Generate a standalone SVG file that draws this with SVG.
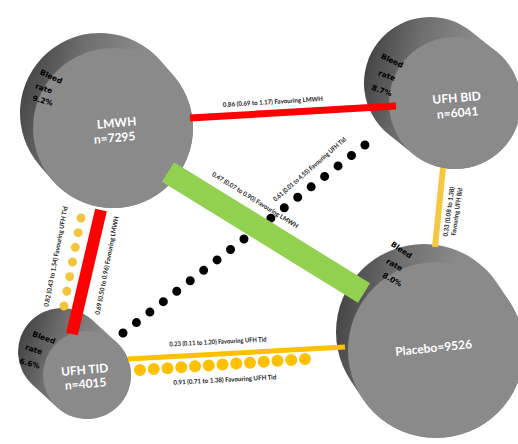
<svg xmlns="http://www.w3.org/2000/svg" width="518" height="444" viewBox="0 0 518 444">
<style>
.face{fill:#8a8a8a}
.nl{font-family:Lato,"Liberation Sans",sans-serif;font-size:12px;font-weight:bold;fill:#fff;text-anchor:middle}
.side{font-family:"DejaVu Sans","Liberation Sans",sans-serif;font-size:7.5px;font-weight:bold;fill:#000;text-anchor:middle}
.cl{font-family:Lato,"Liberation Sans",sans-serif;font-size:6.5px;font-weight:bold;fill:#222;text-anchor:middle}
</style>
<defs>
<linearGradient id="gL" gradientUnits="userSpaceOnUse" x1="20" y1="100" x2="120" y2="128"><stop offset="0" stop-color="#474747"/><stop offset="0.45" stop-color="#6e6e6e"/><stop offset="1" stop-color="#8a8a8a"/></linearGradient>
<linearGradient id="gB" gradientUnits="userSpaceOnUse" x1="364" y1="80" x2="460" y2="103"><stop offset="0" stop-color="#474747"/><stop offset="0.45" stop-color="#6e6e6e"/><stop offset="1" stop-color="#8a8a8a"/></linearGradient>
<linearGradient id="gT" gradientUnits="userSpaceOnUse" x1="18" y1="350" x2="90" y2="375"><stop offset="0" stop-color="#474747"/><stop offset="0.45" stop-color="#6e6e6e"/><stop offset="1" stop-color="#8a8a8a"/></linearGradient>
<linearGradient id="gP" gradientUnits="userSpaceOnUse" x1="336" y1="330" x2="440" y2="350"><stop offset="0" stop-color="#474747"/><stop offset="0.45" stop-color="#6e6e6e"/><stop offset="1" stop-color="#8a8a8a"/></linearGradient>
</defs>
<rect width="518" height="444" fill="#fff"/>
<g id="lmwh">
<line x1="100" y1="113" x2="113" y2="128" stroke="url(#gL)" stroke-width="160" stroke-linecap="round"/>
<circle cx="113" cy="128" r="80" class="face"/>
<text class="side" transform="translate(50,79) rotate(25)">Bleed</text>
<text class="side" transform="translate(43,91) rotate(18)">rate</text>
<text class="side" transform="translate(42,103) rotate(15)">9.2%</text>
<text class="nl" transform="translate(117,127) rotate(-5)">LMWH</text>
<text class="nl" transform="translate(115,142) rotate(-5)">n=7295</text>
</g>
<g id="ufh-bid">
<line x1="430" y1="83" x2="455" y2="103" stroke="url(#gB)" stroke-width="132" stroke-linecap="round"/>
<circle cx="455" cy="103" r="66" class="face"/>
<text class="side" transform="translate(391,63) rotate(25)">Bleed</text>
<text class="side" transform="translate(386,78) rotate(20)">rate</text>
<text class="side" transform="translate(381,93) rotate(18)">8.7%</text>
<text class="nl" transform="translate(457,102) rotate(-5)">UFH BID</text>
<text class="nl" transform="translate(458,117) rotate(-5)">n=6041</text>
</g>
<g id="ufh-tid">
<line x1="62" y1="352" x2="87" y2="375" stroke="url(#gT)" stroke-width="88" stroke-linecap="round"/>
<circle cx="87" cy="375" r="44" class="face"/>
<text class="side" transform="translate(43,340) rotate(20)">Bleed</text>
<text class="side" transform="translate(33,352) rotate(18)">rate</text>
<text class="side" transform="translate(29,366) rotate(15)">6.6%</text>
<text class="nl" transform="translate(85,374) rotate(-5)">UFH TID</text>
<text class="nl" transform="translate(86,388) rotate(-5)">n=4015</text>
</g>
<g id="placebo">
<line x1="424" y1="332" x2="436" y2="350" stroke="url(#gP)" stroke-width="176" stroke-linecap="round"/>
<circle cx="436" cy="350" r="88" class="face"/>
<text class="side" transform="translate(400,252) rotate(35)">Bleed</text>
<text class="side" transform="translate(393,267) rotate(30)">rate</text>
<text class="side" transform="translate(391,282) rotate(28)">8.0%</text>
<text class="nl" transform="translate(434,352) rotate(-6)">Placebo=9526</text>
</g>
<g id="connectors">
<line x1="123" y1="333" x2="365" y2="145" stroke="#000" stroke-width="9" stroke-linecap="round" stroke-dasharray="0 17.02"/>
<line x1="190" y1="118" x2="396" y2="106" stroke="#ff0000" stroke-width="7"/>
<line x1="168" y1="172" x2="364" y2="293" stroke="#92d050" stroke-width="23"/>
<line x1="101" y1="210" x2="72" y2="334" stroke="#ff0000" stroke-width="12"/>
<line x1="81" y1="218" x2="64" y2="306" stroke="#f2c53c" stroke-width="9" stroke-linecap="round" stroke-dasharray="0 14.93"/>
<line x1="128" y1="359" x2="345" y2="347" stroke="#ffc000" stroke-width="5"/>
<line x1="140" y1="370" x2="305" y2="359" stroke="#ffc000" stroke-width="12" stroke-linecap="round" stroke-dasharray="0 13.78"/>
<line x1="443" y1="168" x2="435" y2="247" stroke="#f5c842" stroke-width="6"/>
<text class="cl" transform="translate(273,104) rotate(-3.5)" textLength="100" lengthAdjust="spacingAndGlyphs">0.86 (0.69 to 1.17) Favouring LMWH</text>
<text class="cl" transform="translate(254,202) rotate(32)" textLength="100" lengthAdjust="spacingAndGlyphs">0.47 (0.07 to 0.90) Favouring LMWH</text>
<text class="cl" transform="translate(311,171) rotate(-41)" textLength="94" lengthAdjust="spacingAndGlyphs">0.61 (0.01 to 4.55) Favouring UFH Tid</text>
<text class="cl" transform="translate(218,344) rotate(-3)" textLength="97" lengthAdjust="spacingAndGlyphs">0.23 (0.11 to 1.20) Favouring UFH Tid</text>
<text class="cl" transform="translate(225,382) rotate(-3)" textLength="103" lengthAdjust="spacingAndGlyphs">0.91 (0.71 to 1.38) Favouring UFH Tid</text>
<text class="cl" transform="translate(58,257) rotate(-79)" textLength="102" lengthAdjust="spacingAndGlyphs">0.82 (0.43 to 1.54) Favouring UFH Tid</text>
<text class="cl" transform="translate(109,266) rotate(-79)" textLength="100" lengthAdjust="spacingAndGlyphs">0.69 (0.50 to 0.96) Favouring LMWH</text>
<text class="cl" transform="translate(451,212) rotate(-82)" textLength="50" lengthAdjust="spacingAndGlyphs">0.33 (0.08 to 1.38)</text>
<text class="cl" transform="translate(459,212) rotate(-82)" textLength="48" lengthAdjust="spacingAndGlyphs">Favouring UFH Bid</text>
</g>
</svg>
